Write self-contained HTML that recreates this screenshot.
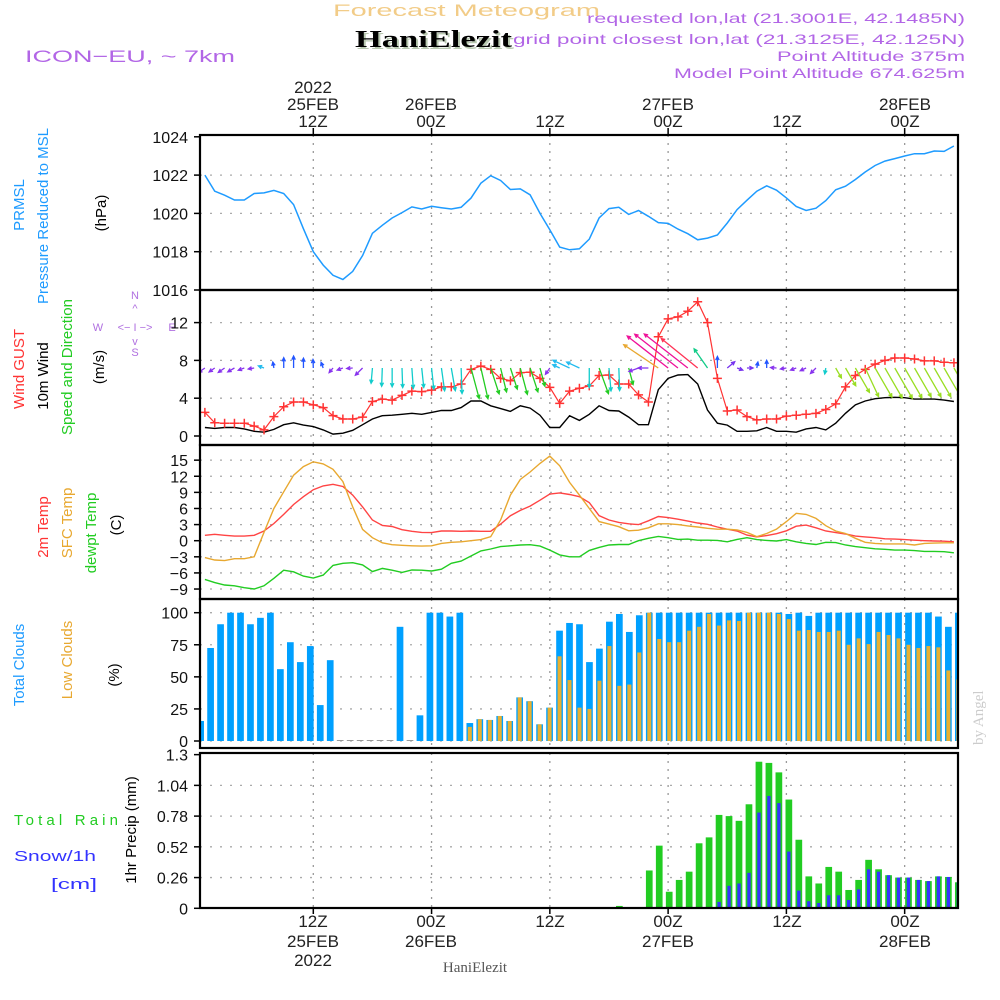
<!DOCTYPE html>
<html><head><meta charset="utf-8"><style>
html,body{margin:0;padding:0;background:#fff;}
svg{display:block;font-family:"Liberation Sans",sans-serif;}
</style></head><body>
<svg id="chart" width="1000" height="1000" viewBox="0 0 1000 1000" xmlns="http://www.w3.org/2000/svg">
<rect x="0" y="0" width="1000" height="1000" fill="#fff"/>
<g id="header">
<text x="333" y="16" font-size="17" fill="#f2cc88" textLength="267" lengthAdjust="spacingAndGlyphs">Forecast Meteogram</text>
<text x="357" y="49" font-family="Liberation Serif,serif" font-weight="bold" font-size="24" fill="#b8c8b0" textLength="157" lengthAdjust="spacingAndGlyphs">HaniElezit</text>
<text x="355" y="47" font-family="Liberation Serif,serif" font-weight="bold" font-size="24" fill="#000" textLength="157" lengthAdjust="spacingAndGlyphs">HaniElezit</text>
<text x="25" y="62" font-size="17" fill="#b266e6" textLength="210" lengthAdjust="spacingAndGlyphs">ICON−EU, ~ 7km</text>
<text x="587" y="23" font-size="14" fill="#b266e6" textLength="378" lengthAdjust="spacingAndGlyphs">requested lon,lat (21.3001E, 42.1485N)</text>
<text x="513" y="44" font-size="14" fill="#b266e6" textLength="452" lengthAdjust="spacingAndGlyphs">grid point closest lon,lat (21.3125E, 42.125N)</text>
<text x="777" y="61" font-size="14" fill="#b266e6" textLength="188" lengthAdjust="spacingAndGlyphs">Point Altitude 375m</text>
<text x="674" y="78" font-size="14" fill="#b266e6" textLength="291" lengthAdjust="spacingAndGlyphs">Model Point Altitude 674.625m</text>
</g>
<g id="toplabels" font-size="17" fill="#222" text-anchor="middle">
<text x="313" y="93">2022</text>
<text x="313" y="110">25FEB</text>
<text x="313" y="127">12Z</text>
<text x="431" y="110">26FEB</text>
<text x="431" y="127">00Z</text>
<text x="550" y="127">12Z</text>
<text x="668" y="110">27FEB</text>
<text x="668" y="127">00Z</text>
<text x="787" y="127">12Z</text>
<text x="905" y="110">28FEB</text>
<text x="905" y="127">00Z</text>
</g>
<g id="botlabels" font-size="17" fill="#222" text-anchor="middle">
<text x="313" y="927">12Z</text>
<text x="313" y="947">25FEB</text>
<text x="313" y="966">2022</text>
<text x="431" y="927">00Z</text>
<text x="431" y="947">26FEB</text>
<text x="550" y="927">12Z</text>
<text x="668" y="927">00Z</text>
<text x="668" y="947">27FEB</text>
<text x="787" y="927">12Z</text>
<text x="905" y="927">00Z</text>
<text x="905" y="947">28FEB</text>
<text x="475" y="972" font-family="Liberation Serif,serif" font-size="15" fill="#555">HaniElezit</text>
</g>
<text transform="translate(983,745) rotate(-90)" font-family="Liberation Serif,serif" font-size="15" fill="#ccc">by Angel</text>
<g id="leftlabels" font-size="15" text-anchor="middle">
<text transform="translate(24,205) rotate(-90)" fill="#1e9bff">PRMSL</text>
<text transform="translate(48,216) rotate(-90)" fill="#1e9bff">Pressure Reduced to MSL</text>
<text transform="translate(106,213) rotate(-90)" fill="#000">(hPa)</text>
<text transform="translate(24,369) rotate(-90)" fill="#ff3333">Wind GUST</text>
<text transform="translate(48,376) rotate(-90)" fill="#000">10m Wind</text>
<text transform="translate(72,367) rotate(-90)" fill="#22cc22">Speed and Direction</text>
<text transform="translate(104,367) rotate(-90)" fill="#000">(m/s)</text>
<text transform="translate(48,527) rotate(-90)" fill="#ff3333">2m Temp</text>
<text transform="translate(72,523) rotate(-90)" fill="#e8a830">SFC Temp</text>
<text transform="translate(96,533) rotate(-90)" fill="#22cc22">dewpt Temp</text>
<text transform="translate(121,525) rotate(-90)" fill="#000">(C)</text>
<text transform="translate(24,665) rotate(-90)" fill="#1e9bff">Total Clouds</text>
<text transform="translate(72,660) rotate(-90)" fill="#e8a830">Low Clouds</text>
<text transform="translate(119,675) rotate(-90)" fill="#000">(%)</text>
<text transform="translate(136,830) rotate(-90)" fill="#000">1hr Precip (mm)</text>
</g>
<g font-size="15">
<text x="14" y="825" fill="#22cc22" textLength="104" lengthAdjust="spacing">Total  Rain</text>
<text x="14" y="861" fill="#3333ff" textLength="82" lengthAdjust="spacingAndGlyphs">Snow/1h</text>
<text x="51" y="889" fill="#3333ff" textLength="46" lengthAdjust="spacingAndGlyphs">[cm]</text>
</g>
<g font-size="11" fill="#b070e0" text-anchor="middle">
<text x="135" y="299">N</text>
<text x="135" y="312">^</text>
<text x="98" y="331">W</text>
<text x="135" y="331">&lt;− I −&gt;</text>
<text x="172" y="331">E</text>
<text x="135" y="345">v</text>
<text x="135" y="356">S</text>
</g>
<g id="grid"></g>
<g id="marks"></g>
<g id="frames"></g>
<g id="yticks" font-size="16" fill="#111" text-anchor="end"></g>
</svg>
<script>
// ---- data (hours 1..77 from 00Z 25FEB) ----
const pressure = [1022.0,1021.16,1020.95,1020.7,1020.7,1021.04,1021.07,1021.2,1021.04,1020.46,
1019.2,1018.0,1017.3,1016.77,1016.55,1016.97,1017.8,1018.96,1019.38,1019.76,
1020.04,1020.34,1020.23,1020.37,1020.3,1020.23,1020.32,1020.8,1021.58,1021.97,
1021.72,1021.25,1021.28,1020.97,1020.0,1019.15,1018.24,1018.1,1018.15,1018.66,
1019.76,1020.25,1020.32,1019.95,1020.15,1019.85,1019.52,1019.48,1019.18,1018.94,
1018.62,1018.71,1018.87,1019.5,1020.2,1020.69,1021.16,1021.44,1021.21,1020.81,
1020.36,1020.15,1020.27,1020.67,1021.23,1021.42,1021.77,1022.16,1022.5,1022.73,
1022.86,1023.0,1023.12,1023.12,1023.26,1023.24,1023.52];
const windSpeed = [0.9,0.8,0.9,0.9,0.75,0.5,0.4,0.7,1.2,1.4,
1.15,1.0,0.65,0.2,0.3,0.6,1.2,1.8,2.15,2.2,
2.3,2.4,2.3,2.5,2.7,2.7,3.0,3.7,3.7,3.2,
2.9,2.6,3.2,2.95,2.2,0.9,0.9,2.15,1.65,2.3,
3.2,2.7,2.65,2.0,1.2,1.2,4.9,6.1,6.45,6.5,
5.5,2.75,1.35,1.15,0.5,0.5,0.55,0.9,0.5,0.5,
0.4,0.75,0.9,0.65,1.35,2.4,3.3,3.7,3.95,4.05,
4.1,4.05,3.9,3.9,3.9,3.8,3.65];
const windGust = [2.5,1.4,1.35,1.35,1.35,1.05,0.65,2.05,3.1,3.6,
3.6,3.3,3.0,2.15,1.8,1.8,2.0,3.65,3.9,3.8,
4.3,4.75,4.7,4.85,5.2,5.2,5.5,7.05,7.4,7.05,
6.1,5.85,6.7,6.75,6.1,5.15,3.45,4.75,5.05,5.3,
6.4,6.45,5.5,5.5,4.35,3.6,10.5,12.4,12.6,13.2,
14.2,12.0,6.1,2.65,2.75,2.05,1.7,1.8,1.8,2.1,
2.2,2.3,2.4,2.8,3.4,5.2,6.4,7.05,7.6,8.0,
8.25,8.25,8.15,7.95,7.95,7.8,7.75];
// direction the wind arrow points (math degrees, 0=east, 90=north)
const windDir = [215,215,215,210,200,190,160,100,90,90,
90,92,110,230,200,185,225,265,268,270,
272,274,276,276,278,280,272,285,283,288,
284,288,285,288,285,235,155,155,155,270,
290,275,272,285,200,180,146,142,142,142,
141,125,90,40,340,0,80,90,175,190,
200,205,225,260,300,300,300,295,300,300,
300,300,300,300,300,300,300];
const temp2m = [1.0,1.2,1.0,0.85,0.85,1.0,1.8,3.2,4.9,6.75,
8.2,9.5,10.2,10.5,10.1,8.5,6.3,3.85,2.85,2.65,
2.05,1.75,1.55,1.5,1.8,1.8,1.75,1.8,1.75,1.75,
3.1,4.65,5.65,6.45,7.55,8.7,8.9,8.6,8.2,7.1,
4.65,3.85,3.4,3.15,3.0,3.7,4.5,4.3,4.0,3.65,
3.3,3.05,2.55,2.15,1.8,1.05,0.7,0.95,1.3,1.85,
2.7,2.9,2.4,1.8,1.5,1.25,0.85,0.7,0.55,0.35,
0.3,0.2,0.1,0,-0.05,-0.1,-0.2];
const tempSfc = [-3.15,-3.6,-3.7,-3.35,-3.35,-3.0,1.55,6.0,9.1,12.2,
13.8,14.7,14.3,13.3,11.0,6.3,2.1,0.55,-0.4,-0.75,
-0.85,-0.95,-1.0,-0.95,-0.5,-0.3,-0.2,0,0.2,0.75,
3.85,8.5,11.4,12.8,14.4,15.75,13.95,10.85,8.5,6.0,
3.55,3.1,2.6,1.85,1.95,2.4,3.15,3.15,3.0,2.75,
2.55,2.3,2.15,2.15,2.0,1.55,0.75,1.35,2.15,3.55,
5.1,4.9,4.15,2.8,1.8,1.35,0.45,-0.3,-0.5,-0.6,
-0.6,-0.6,-0.8,-0.5,-0.45,-0.4,-0.4];
const dewpoint = [-7.2,-7.8,-8.25,-8.4,-8.75,-9.0,-8.4,-7.0,-5.5,-5.8,
-6.6,-6.95,-6.4,-4.6,-4.2,-4.1,-4.5,-5.75,-5.15,-5.5,
-5.9,-5.45,-5.5,-5.65,-5.3,-4.2,-3.8,-2.85,-1.9,-1.55,
-1.1,-0.95,-0.8,-0.75,-1.0,-1.75,-2.65,-3.0,-3.0,-1.8,
-1.25,-0.8,-0.7,-0.7,0,0.45,0.8,0.55,0.25,0.3,
0.1,0.1,0.05,-0.2,0.25,0.55,0.2,0.05,-0.05,0.2,
-0.2,-0.5,-0.7,-0.3,-0.35,-0.8,-1.1,-1.3,-1.5,-1.6,
-1.75,-1.75,-1.85,-2.0,-2.0,-2.05,-2.25];
const cloudTotal = [15.6,72.5,91,100,100,91,96,100,56,77,
61.5,74,28,63,0,0,0,0,0,0,
89,0,20,100,100,97,100,14,17,16.4,
19.5,15.6,34,31,13,26,86,92,91,61.5,
72,93,99,85,98,100,100,100,100,100,
100,100,100,100,100,100,100,100,100,99,
100,97.5,100,100,100,100,100,100,100,100,
100,100,100,100,97,89,100];
const cloudLow = [0,0,0,0,0,0,0,0,0,0,
0,0,0,0,0,0,0,0,0,0,
0,0,0,0,0,0,0,11,17,16.4,
19.5,15.6,34,31,13,26,66,47.5,26,25,
47,74,43,44,69,100,79.5,77,77,86,
89,99,90,94,93.5,100,100,100,99,95,
86,86.5,85,85,86,75,80,75.5,85,82.6,
80,75,72.5,74,73,55,48];
const rain = [0,0,0,0,0,0,0,0,0,0,
0,0,0,0,0,0,0,0,0,0,
0,0,0,0,0,0,0,0,0,0,
0,0,0,0,0,0,0,0,0,0,
0,0.011,0.02,0,0.01,0.32,0.53,0.14,0.24,0.31,
0.55,0.60,0.79,0.78,0.74,0.88,1.24,1.23,1.15,0.92,
0.58,0.27,0.21,0.35,0.31,0.155,0.24,0.41,0.33,0.28,
0.26,0.26,0.24,0.23,0.27,0.265,0.22];
const snow = [0,0,0,0,0,0,0,0,0,0,
0,0,0,0,0,0,0,0,0,0,
0,0,0,0,0,0,0,0,0,0,
0,0,0,0,0,0,0,0,0,0,
0,0,0,0,0,0,0,0,0,0,
0,0,0.054,0.19,0.21,0.30,0.81,0.95,0.89,0.48,
0.15,0.06,0.045,0.11,0.11,0.07,0.16,0.33,0.31,0.28,
0.26,0.26,0.24,0.23,0.27,0.265,0.22];
const pressTicks = [1016,1018,1020,1022,1024];
const windTicks = [0,4,8,12];
const tempTicks = [-9,-6,-3,0,3,6,9,12,15];
const cloudTicks = [0,25,50,75,100];
const precipTicks = [0,0.26,0.52,0.78,1.04,1.3];
const timeGridHours = [12,24,36,48,60,72];

// ---- scales ----
const NS='http://www.w3.org/2000/svg';
const PL=200, PR=958;
const xLine = h => 313.3 + (h-12)*9.856;
const xBar = h => 187.3 + h*9.97;
const yP = p => 290 - (p-1016)*19.15;
const yW = v => 436 - v*9.45;
const yT = t => 540.7 - t*5.37;
const yC = c => 741 - c*1.283;
const yR = r => 908.3 - r*118.2;
const panels = [
  {name:'pressure-panel', top:135, bot:290, ticks:pressTicks, y:yP, fmt:v=>String(v)},
  {name:'wind-panel', top:290, bot:445, ticks:windTicks, y:yW, fmt:v=>String(v)},
  {name:'temperature-panel', top:445, bot:599, ticks:tempTicks, y:yT, fmt:v=>(v<0?'−'+(-v):String(v))},
  {name:'cloud-panel', top:599, bot:748, ticks:cloudTicks, y:yC, fmt:v=>String(v)},
  {name:'precip-panel', top:753, bot:908, ticks:precipTicks, y:yR, fmt:v=>String(v)}
];
function mk(tag, attrs, parent){const e=document.createElementNS(NS,tag);for(const k in attrs)e.setAttribute(k,attrs[k]);parent.appendChild(e);return e;}
const grid=document.getElementById('grid'), marks=document.getElementById('marks'), frames=document.getElementById('frames'), yticks=document.getElementById('yticks');
const defs=mk('defs',{},document.getElementById('chart'));
panels.forEach((p,i)=>{
  const cp=mk('clipPath',{id:'clip'+i},defs);
  mk('rect',{x:PL,y:p.top,width:PR-PL,height:p.bot-p.top},cp);
  p.ticks.forEach(t=>{
    const y=p.y(t);
    if(y>p.top+2 && y<p.bot-2){
      const gl=mk('line',{x1:PL,x2:PR,y1:y,y2:y,stroke:'#aaa','stroke-width':1.3,'stroke-dasharray':'2,8'},grid);
      
      
    }
    const tk=mk('line',{x1:PL-6,x2:PL,y1:y,y2:y,stroke:'#000','stroke-width':1.5},frames);
    
    
    const tx=mk('text',{x:188,y:y+6},yticks);
    tx.textContent=p.fmt(t);
    
    
  });
  timeGridHours.forEach(h=>{
    const vl=mk('line',{x1:xLine(h),x2:xLine(h),y1:p.top,y2:p.bot,stroke:'#999','stroke-width':1.3,'stroke-dasharray':'2,6'},grid);
    
    
  });
  const fr=mk('rect',{x:PL,y:p.top,width:PR-PL,height:p.bot-p.top,fill:'none',stroke:'#000','stroke-width':2.2},frames);
  
  
});
// top ticks
timeGridHours.forEach(h=>{
  const t=mk('line',{x1:xLine(h),x2:xLine(h),y1:128,y2:135,stroke:'#000','stroke-width':1.5},frames);
  
  
  const b=mk('line',{x1:xLine(h),x2:xLine(h),y1:908,y2:914,stroke:'#000','stroke-width':1.5},frames);
  
  
});
function polyline(arr, yf, color, name, clip, w){
  const pts=arr.map((v,i)=>xLine(i+1).toFixed(1)+','+yf(v).toFixed(1)).join(' ');
  const pl=mk('polyline',{points:pts,fill:'none',stroke:color,'stroke-width':w||1.4,'clip-path':'url(#clip'+clip+')'},marks);
  
  
}
// pressure
polyline(pressure,yP,'#1e9bff','pressure-line',0,1.5);
// wind speed
polyline(windSpeed,yW,'#000','wind-speed-line',1,1.4);
// gust line + markers
polyline(windGust,yW,'#ff3333','gust-line',1,1.2);
windGust.forEach((v,i)=>{
  const x=xLine(i+1), y=yW(v);
  const g=mk('path',{d:`M${x-4.5} ${y}H${x+4.5}M${x} ${y-4.5}V${y+4.5}`,stroke:'#ff3333','stroke-width':1.5,'clip-path':'url(#clip1)'},marks);
  
  
});
// wind arrows
function arrowColor(a){
  a=((a%360)+360)%360;
  if(a>=80&&a<115) return '#2255ff';
  if(a>=115&&a<135) return '#11cc88';
  if(a>=135&&a<141.5) return '#ff3355';
  if(a>=141.5&&a<145) return '#ee1199';
  if(a>=145&&a<150) return '#e8a830';
  if(a>=150&&a<170) return '#22bbee';
  if(a>=170&&a<250) return '#8833ee';
  if(a>=250&&a<281) return '#11cccc';
  if(a>=281&&a<292) return '#22cc22';
  if(a>=292&&a<310) return '#99dd22';
  return '#7733ee';
}
windDir.forEach((a,i)=>{
  const x0=xLine(i+1), y0=368, L=Math.max(windSpeed[i]*8.5,6);
  const r=a*Math.PI/180, x1=x0+L*Math.cos(r), y1=y0-L*Math.sin(r);
  const hl=4, h1=r+Math.PI-0.45, h2=r+Math.PI+0.45;
  const d=`M${x0} ${y0}L${x1} ${y1}M${x1+hl*Math.cos(h1)} ${y1-hl*Math.sin(h1)}L${x1} ${y1}L${x1+hl*Math.cos(h2)} ${y1-hl*Math.sin(h2)}`;
  const e=mk('path',{d:d,fill:'none',stroke:arrowColor(a),'stroke-width':1.3,'clip-path':'url(#clip1)'},marks);
  
  
});
// temperatures
polyline(temp2m,yT,'#ff4444','temp-2m-line',2,1.4);
polyline(tempSfc,yT,'#e8a830','temp-sfc-line',2,1.4);
polyline(dewpoint,yT,'#22cc22','dewpoint-line',2,1.4);
// clouds
cloudTotal.forEach((v,i)=>{
  const x=xBar(i+1);
  const y=yC(v), h=Math.max(yC(0)-y,1);
  const b=mk('rect',{x:x,y:yC(0)-h,width:6.7,height:h,fill:v>0?'#00a0ff':'#999','clip-path':'url(#clip3)'},marks);
  
  
});
cloudLow.forEach((v,i)=>{
  if(v<=0) return;
  const x=xBar(i+1);
  const b=mk('rect',{x:x+1.35,y:yC(v),width:4,height:yC(0)-yC(v),fill:'#e8b030','clip-path':'url(#clip3)'},marks);
  
  
});
// precip
rain.forEach((v,i)=>{
  if(v<=0) return;
  const x=xBar(i+1);
  const b=mk('rect',{x:x,y:yR(v),width:6.7,height:yR(0)-yR(v),fill:'#22cc22','clip-path':'url(#clip4)'},marks);
  
  
});
snow.forEach((v,i)=>{
  if(v<=0) return;
  const x=xBar(i+1);
  const b=mk('rect',{x:x+1.7,y:yR(v),width:3.3,height:yR(0)-yR(v),fill:'#3333ff','clip-path':'url(#clip4)'},marks);
  
  
});
// white mask over 1016 label overlap at panel border
</script>
</body></html>
